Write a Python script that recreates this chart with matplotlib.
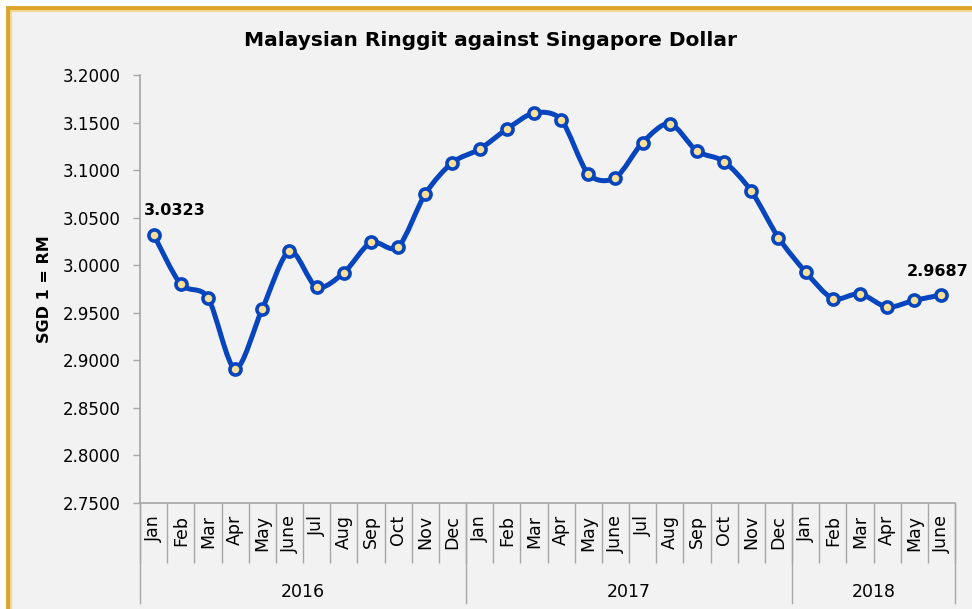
import matplotlib.pyplot as plt
import numpy as np
from matplotlib.path import Path
from matplotlib.patches import PathPatch, Rectangle

months = ['Jan', 'Feb', 'Mar', 'Apr', 'May', 'June', 'Jul', 'Aug', 'Sep', 'Oct', 'Nov', 'Dec',
          'Jan', 'Feb', 'Mar', 'Apr', 'May', 'June', 'Jul', 'Aug', 'Sep', 'Oct', 'Nov', 'Dec',
          'Jan', 'Feb', 'Mar', 'Apr', 'May', 'June']
years = ['2016', '2017', '2018']
year_len = [12, 12, 6]
rate = [3.0323, 2.980, 2.966, 2.891, 2.954, 3.015, 2.977, 2.992, 3.024, 3.019, 3.075, 3.108,
        3.122, 3.143, 3.160, 3.153, 3.096, 3.092, 3.129, 3.149, 3.120, 3.109, 3.078, 3.029,
        2.993, 2.965, 2.970, 2.956, 2.963, 2.9687]

blue = '#0645BE'
grey = '#A6A6A6'

fig = plt.figure(figsize=(9.72, 6.09), dpi=100)
fig.patch.set_facecolor('white')
# gold frame
fig.patches.append(Rectangle((8 / 972, -0.05), 1.1, 1 - 8 / 609 + 0.05, transform=fig.transFigure,
                             facecolor='#F2F2F2', edgecolor='#DCA428', linewidth=3.5, zorder=-2))
fig.patches.append(Rectangle((11 / 972, -0.05), 1.1, 1 - 11 / 609 + 0.05, transform=fig.transFigure,
                             facecolor='none', edgecolor='#F3D98F', linewidth=1.5, zorder=-1))

ax = fig.add_axes([140 / 972, 1 - 503 / 609, 815 / 972, 428 / 609])
ax.set_facecolor('none')

x = np.arange(len(rate))
y = np.array(rate)

# smoothed line (Excel style Bezier through the points)
verts = [(x[0], y[0])]
codes = [Path.MOVETO]
for i in range(len(x) - 1):
    p0 = np.array([x[max(i - 1, 0)], y[max(i - 1, 0)]])
    p1 = np.array([x[i], y[i]])
    p2 = np.array([x[i + 1], y[i + 1]])
    p3 = np.array([x[min(i + 2, len(x) - 1)], y[min(i + 2, len(x) - 1)]])
    c1 = p1 + (p2 - p0) / 7
    c2 = p2 - (p3 - p1) / 7
    verts += [tuple(c1), tuple(c2), tuple(p2)]
    codes += [Path.CURVE4] * 3
ax.add_patch(PathPatch(Path(verts, codes), facecolor='none', edgecolor=blue, lw=3.6,
                       capstyle='round', joinstyle='round', zorder=2))
ax.plot(x, y, linestyle='none', marker='o', markersize=8, markerfacecolor='#FBE09A',
        markeredgecolor=blue, markeredgewidth=2.6, zorder=3)

ax.annotate(f'{rate[0]:.4f}', (x[0], y[0]), xytext=(15, 17), textcoords='offset points',
            ha='center', va='center', fontsize=11.5, fontweight='bold')
ax.annotate(f'{rate[-1]:.4f}', (x[-1], y[-1]), xytext=(-3, 17), textcoords='offset points',
            ha='center', va='center', fontsize=11.5, fontweight='bold')

ax.set_xlim(-0.5, len(rate) - 0.5)
ax.set_ylim(2.75, 3.20)
ax.set_yticks(np.arange(2.75, 3.2001, 0.05))
ax.set_yticklabels([f'{v:.4f}' for v in np.arange(2.75, 3.2001, 0.05)], fontsize=12)
ax.tick_params(axis='y', length=5, color=grey, width=1, pad=9)

ax.set_xticks(np.arange(-0.5, len(rate), 1))
ax.set_xticklabels([])
ax.tick_params(axis='x', which='major', direction='out', length=43, color=grey, width=1)
ax.set_xticks(x, minor=True)
ax.set_xticklabels(months, minor=True, rotation=90, fontsize=12.5)
ax.tick_params(axis='x', which='minor', length=0, pad=8.5)

# year separators and labels
start = 0
bounds = [-0.5]
for yr, n in zip(years, year_len):
    ax.text(start + (n - 1) / 2, -0.208, yr, transform=ax.get_xaxis_transform(),
            ha='center', va='center', fontsize=12.5)
    start += n
    bounds.append(start - 0.5)
for b in bounds:
    ax.plot([b, b], [0, -0.234], transform=ax.get_xaxis_transform(), color=grey, lw=1, clip_on=False)

for s in ['top', 'right']:
    ax.spines[s].set_visible(False)
for s in ['left', 'bottom']:
    ax.spines[s].set_color(grey)
    ax.spines[s].set_linewidth(1.2)

ax.set_ylabel('SGD 1 = RM', fontsize=11.5, fontweight='bold')
ax.yaxis.set_label_coords(-88 / 815, 0.5)
fig.text(490 / 972, 1 - 40 / 609, 'Malaysian Ringgit against Singapore Dollar', ha='center',
         va='center', fontsize=14.5, fontweight='bold')

fig.savefig('out.png', dpi=100, facecolor=fig.get_facecolor())
